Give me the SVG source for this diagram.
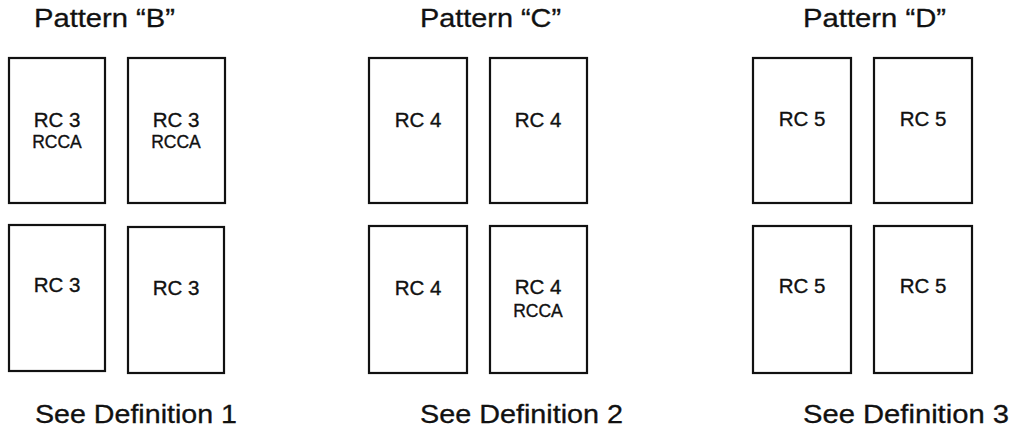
<svg xmlns="http://www.w3.org/2000/svg" width="1011" height="430" viewBox="0 0 1011 430">
<style>
.box{fill:#fff;stroke:#111;stroke-width:2.2}
.t{font-family:"Liberation Sans",Arial,sans-serif;fill:#111;stroke:#111;stroke-width:0.35;text-anchor:middle}
.rc{font-size:20.5px}
.rcca{font-size:17.5px}
.big{font-family:"Liberation Sans",Arial,sans-serif;fill:#111;stroke:#111;stroke-width:0.3;font-size:25.5px}
</style>
<rect width="1011" height="430" fill="#fff"/>
<g id="titles">
<text class="big" x="34" y="27" textLength="141" lengthAdjust="spacingAndGlyphs">Pattern “B”</text>
<text class="big" x="420" y="27" textLength="141" lengthAdjust="spacingAndGlyphs">Pattern “C”</text>
<text class="big" x="803" y="27" textLength="143" lengthAdjust="spacingAndGlyphs">Pattern “D”</text>
<text class="big" x="35" y="423" textLength="202" lengthAdjust="spacingAndGlyphs">See Definition 1</text>
<text class="big" x="420" y="423" textLength="203" lengthAdjust="spacingAndGlyphs">See Definition 2</text>
<text class="big" x="803" y="423" textLength="206" lengthAdjust="spacingAndGlyphs">See Definition 3</text>
</g>
<g id="b1"><rect class="box" x="9" y="58" width="96" height="145"/><text class="t rc" x="57" y="127">RC 3</text><text class="t rcca" x="57" y="148">RCCA</text></g>
<g id="b2"><rect class="box" x="128" y="58" width="97" height="145"/><text class="t rc" x="176" y="127">RC 3</text><text class="t rcca" x="176" y="148">RCCA</text></g>
<g id="b3"><rect class="box" x="9" y="225" width="96" height="146"/><text class="t rc" x="57" y="292">RC 3</text></g>
<g id="b4"><rect class="box" x="128" y="227" width="96" height="146"/><text class="t rc" x="176" y="295">RC 3</text></g>
<g id="c1"><rect class="box" x="369" y="58" width="98" height="145"/><text class="t rc" x="418" y="127">RC 4</text></g>
<g id="c2"><rect class="box" x="490" y="58" width="97" height="145"/><text class="t rc" x="538" y="127">RC 4</text></g>
<g id="c3"><rect class="box" x="369" y="226" width="98" height="147"/><text class="t rc" x="418" y="295">RC 4</text></g>
<g id="c4"><rect class="box" x="490" y="226" width="97" height="147"/><text class="t rc" x="538" y="294">RC 4</text><text class="t rcca" x="538" y="317">RCCA</text></g>
<g id="d1"><rect class="box" x="753" y="58" width="98" height="145"/><text class="t rc" x="802" y="126">RC 5</text></g>
<g id="d2"><rect class="box" x="874" y="58" width="98" height="145"/><text class="t rc" x="923" y="126">RC 5</text></g>
<g id="d3"><rect class="box" x="753" y="226" width="98" height="147"/><text class="t rc" x="802" y="293">RC 5</text></g>
<g id="d4"><rect class="box" x="874" y="226" width="98" height="147"/><text class="t rc" x="923" y="293">RC 5</text></g>
<g id="connectors"></g>
</svg>
